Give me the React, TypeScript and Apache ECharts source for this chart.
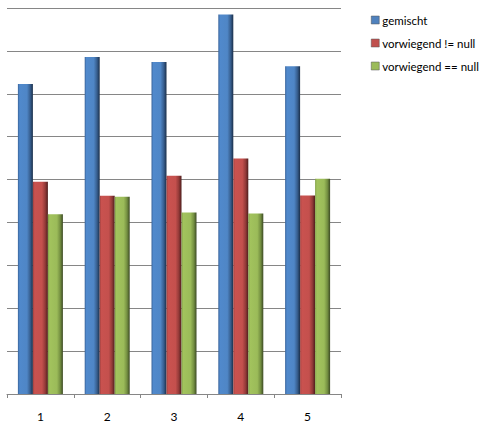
import React, { useEffect, useRef } from "react";
import * as echarts from "echarts";

const categories = ["1", "2", "3", "4", "5"];
const seriesNames = ["gemischt", "vorwiegend != null", "vorwiegend == null"];
const gemischt = [7.23, 7.86, 7.74, 8.85, 7.64];
const vorwiegendNotNull = [4.95, 4.62, 5.09, 5.49, 4.63];
const vorwiegendNull = [4.19, 4.6, 4.23, 4.21, 5.02];

const grad = (stops: string[]) =>
  new echarts.graphic.LinearGradient(0, 0, 1, 0, [
    { offset: 0, color: stops[0] },
    { offset: 0.12, color: stops[1] },
    { offset: 0.6, color: stops[2] },
    { offset: 0.82, color: stops[3] },
    { offset: 1, color: stops[4] },
  ]);

export default function App() {
  const ref = useRef<HTMLDivElement>(null);
  useEffect(() => {
    if (!ref.current) return;
    const chart = echarts.init(ref.current, null, { renderer: "svg" });
    const fills = [
      grad(["#3a649a", "#5089cc", "#4f86c6", "#375e8e", "#1a2f4a"]),
      grad(["#a04140", "#c9524f", "#c4504d", "#933a38", "#4e1d1c"]),
      grad(["#809f47", "#a2c35d", "#9bbb59", "#748f41", "#3c4a24"]),
    ];
    const legendColors = ["#4F81BD", "#C0504D", "#9BBB59"];
    const data = [gemischt, vorwiegendNotNull, vorwiegendNull];
    chart.setOption({
      animation: false,
      backgroundColor: "#ffffff",
      grid: { left: 7, right: 141, top: 8, bottom: 32, containLabel: false },
      legend: {
        orient: "vertical",
        left: 366,
        top: 9,
        itemWidth: 8,
        itemHeight: 8,
        itemGap: 11,
        icon: "rect",
        textStyle: { fontFamily: "Lato, 'Open Sans', sans-serif", fontSize: 11.5, color: "#000000", padding: [0, 0, 0, -2] },
        data: seriesNames.map((n, i) => ({
          name: n,
          itemStyle: { color: legendColors[i], borderColor: "#555", borderWidth: 0.5 },
        })),
      },
      xAxis: {
        type: "category",
        data: categories,
        axisLine: { lineStyle: { color: "#868686", width: 1 } },
        axisTick: { show: true, length: 4, lineStyle: { color: "#868686" } },
        axisLabel: {
          color: "#000000",
          fontFamily: "Lato, 'Open Sans', sans-serif",
          fontSize: 12,
          margin: 16,
        },
      },
      yAxis: {
        type: "value",
        min: 0,
        max: 9,
        interval: 1,
        axisLine: { show: false },
        axisTick: { show: false },
        axisLabel: { show: false },
        splitLine: { lineStyle: { color: "#868686", width: 1 } },
      },
      series: seriesNames.map((n, i) => ({
        name: n,
        type: "bar",
        data: data[i],
        barWidth: 15,
        barGap: "0%",
        itemStyle: { color: fills[i] },
      })),
    });
    return () => chart.dispose();
  }, []);
  return (
    <div
      ref={ref}
      style={{ position: "fixed", left: 0, top: 0, width: 482, height: 426 }}
    />
  );
}
